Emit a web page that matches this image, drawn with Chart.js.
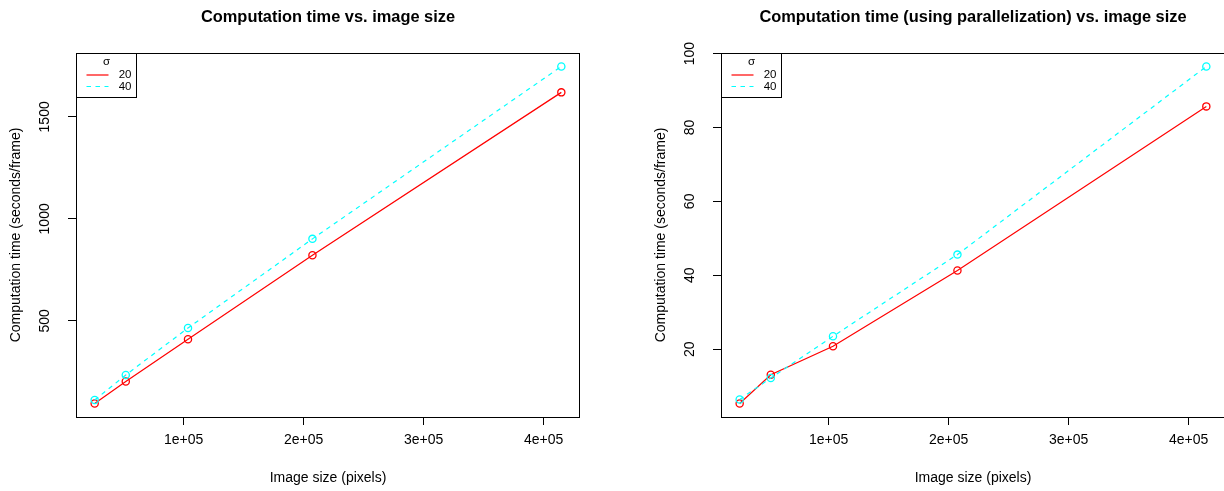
<!DOCTYPE html>
<html>
<head>
<meta charset="utf-8">
<script src="https://cdn.jsdelivr.net/npm/chart.js@4.4.1/dist/chart.umd.min.js"></script>
<style>
  html, body { margin: 0; padding: 0; background: #fff; }
  #wrap { position: relative; width: 1224px; height: 491px; overflow: hidden; }
  .panel { position: absolute; top: 0; width: 656px; height: 491px; }
</style>
</head>
<body>
<div id="wrap">
  <div class="panel" style="left:0"><canvas id="chart-serial" width="656" height="491"></canvas></div>
  <div class="panel" style="left:645px"><canvas id="chart-parallel" width="656" height="491"></canvas></div>
</div>
<script>
// image sizes in pixels (x axis, shared by both panels)
const imageSizes = [25920, 51840, 103680, 207360, 414720];
const sigmaLabels = ["20", "40"];

// seconds per frame, serial run
const serialSigma20 = [95, 203, 410, 822, 1620];
const serialSigma40 = [112, 235, 465, 902, 1747];

// seconds per frame, parallel run
const parallelSigma20 = [5.3, 13.1, 20.8, 41.3, 85.7];
const parallelSigma40 = [6.4, 12.2, 23.5, 45.6, 96.5];

const xTickValues = [100000, 200000, 300000, 400000];
const xTickLabels = ["1e+05", "2e+05", "3e+05", "4e+05"];
const serialYTicks = [500, 1000, 1500];
const parallelYTicks = [20, 40, 60, 80, 100];

const FONT = "'Liberation Sans', Arial, Helvetica, sans-serif";
const RED = "#ff0000";
const CYAN = "#00ffff";
const DASH = [4.5, 4.5];

// R-style axis limits: data range widened by 4% on each side
function paddedRange(values) {
    const lo = Math.min(...values);
    const hi = Math.max(...values);
    const pad = 0.04 * (hi - lo);
    return { min: lo - pad, max: hi + pad };
}

// box round the plot region plus the little sigma legend in its corner
const rFrame = {
    id: "rFrame",
    afterDraw(chart) {
        const { ctx, chartArea: a } = chart;
        ctx.save();
        ctx.strokeStyle = "#000";
        ctx.lineWidth = 1;
        ctx.strokeRect(Math.round(a.left) + 0.5, Math.round(a.top) + 0.5,
            Math.round(a.right - a.left) - 1, Math.round(a.bottom - a.top));

        const l = Math.round(a.left) + 0.5, t = Math.round(a.top) + 0.5;
        ctx.strokeRect(l, t, 60, 44);
        ctx.fillStyle = "#000";
        ctx.font = "11.5px " + FONT;
        ctx.textBaseline = "middle";
        ctx.textAlign = "center";
        ctx.fillText("\u03c3", l + 30, t + 8);
        const rows = [[RED, [], 21.5], [CYAN, DASH, 33]];
        rows.forEach(([col, dash, dy], i) => {
            ctx.strokeStyle = col;
            ctx.lineWidth = 1.2;
            ctx.setLineDash(dash);
            ctx.beginPath();
            ctx.moveTo(l + 10, t + dy);
            ctx.lineTo(l + 32, t + dy);
            ctx.stroke();
            ctx.setLineDash([]);
            ctx.textAlign = "right";
            ctx.fillText(sigmaLabels[i], l + 55, t + dy);
        });
        ctx.restore();
    },
};

function makeChart(canvasId, title, s20, s40, yTicks) {
    const xr = paddedRange(imageSizes);
    const yr = paddedRange(s20.concat(s40));
    const axisFont = { family: FONT, size: 14 };
    const widest = Math.max(...yTicks.map(v => String(v).length)) * 7.8;

    new Chart(document.getElementById(canvasId), {
        type: "line",
        data: {
            datasets: [
                {
                    label: sigmaLabels[0],
                    data: imageSizes.map((x, i) => ({ x: x, y: s20[i] })),
                    borderColor: RED,
                    borderWidth: 1.2,
                    pointBorderColor: RED,
                    pointBackgroundColor: "rgba(0,0,0,0)",
                    pointRadius: 3.6,
                    pointBorderWidth: 1.3,
                    tension: 0,
                    order: 2,
                },
                {
                    label: sigmaLabels[1],
                    data: imageSizes.map((x, i) => ({ x: x, y: s40[i] })),
                    borderColor: CYAN,
                    borderWidth: 1.2,
                    borderDash: DASH,
                    pointBorderColor: CYAN,
                    pointBackgroundColor: "rgba(0,0,0,0)",
                    pointRadius: 3.6,
                    pointBorderWidth: 1.3,
                    tension: 0,
                    order: 1,
                },
            ],
        },
        options: {
            responsive: false,
            animation: false,
            devicePixelRatio: 1,
            layout: { padding: 0 },
            plugins: {
                legend: { display: false },
                tooltip: { enabled: false },
                title: {
                    display: true,
                    text: title,
                    color: "#000",
                    font: { family: FONT, size: 16.4, weight: "bold" },
                    padding: { top: 8, bottom: 25.3 },
                },
            },
            scales: {
                x: {
                    type: "linear",
                    min: xr.min,
                    max: xr.max,
                    afterBuildTicks: s => { s.ticks = xTickValues.map(v => ({ value: v })); },
                    afterFit: s => { s.height = 74; },
                    border: { display: false },
                    grid: { drawOnChartArea: false, drawTicks: true, tickLength: 8, color: "#000", lineWidth: 1 },
                    ticks: {
                        color: "#000",
                        font: axisFont,
                        padding: 7,
                        maxRotation: 0,
                        autoSkip: false,
                        callback: v => xTickLabels[xTickValues.indexOf(v)],
                    },
                    title: {
                        display: true,
                        text: "Image size (pixels)",
                        color: "#000",
                        font: axisFont,
                        padding: { top: 0, bottom: 4 },
                    },
                },
                y: {
                    type: "linear",
                    min: yr.min,
                    max: yr.max,
                    afterBuildTicks: s => { s.ticks = yTicks.map(v => ({ value: v })); },
                    afterFit: s => { s.width = 76; },
                    border: { display: false },
                    grid: { drawOnChartArea: false, drawTicks: true, tickLength: 8, color: "#000", lineWidth: 1 },
                    ticks: {
                        color: "#000",
                        font: axisFont,
                        minRotation: 90,
                        maxRotation: 90,
                        crossAlign: "center",
                        padding: 23 - widest / 2,
                        autoSkip: false,
                        callback: v => String(v),
                    },
                    title: {
                        display: true,
                        text: "Computation time (seconds/frame)",
                        color: "#000",
                        font: axisFont,
                        padding: { top: 7.6, bottom: 0 },
                    },
                },
                // empty right-hand margin so the title centres over the plot box
                spacer: {
                    type: "linear",
                    position: "right",
                    display: true,
                    afterFit: s => { s.width = 76; },
                    border: { display: false },
                    grid: { display: false },
                    ticks: { display: false },
                },
            },
        },
        plugins: [rFrame],
    });
}

makeChart("chart-serial", "Computation time vs. image size",
    serialSigma20, serialSigma40, serialYTicks);
makeChart("chart-parallel", "Computation time (using parallelization) vs. image size",
    parallelSigma20, parallelSigma40, parallelYTicks);
</script>
</body>
</html>
